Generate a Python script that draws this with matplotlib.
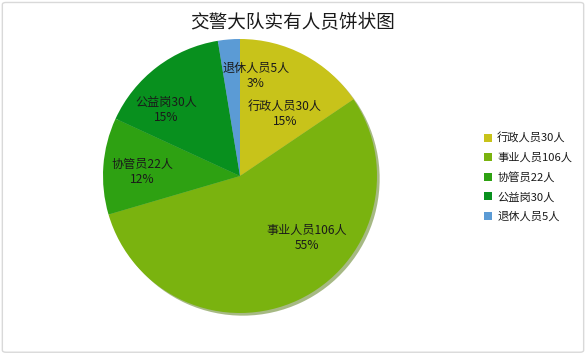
import matplotlib
matplotlib.use("Agg")
import matplotlib.pyplot as plt
from matplotlib.patches import FancyBboxPatch

plt.rcParams['font.family'] = ['Noto Sans CJK SC', 'DejaVu Sans']

# data
categories = ['行政人员30人', '事业人员106人', '协管员22人', '公益岗30人', '退休人员5人']
values = [30, 106, 22, 30, 5]
pct_labels = ['15%', '55%', '12%', '15%', '3%']
colors = ['#C8C31A', '#7AB30F', '#2EA112', '#08901E', '#5B9BD5']
# label centres in figure pixels (Excel "best fit" placement)
label_pos = [(285, 114), (307, 238), (142, 172), (166, 110), (256, 76)]

W, H = 586, 354
fig = plt.figure(figsize=(W / 100, H / 100), dpi=100)

# outer chart border
fig.patches.append(FancyBboxPatch((0.004, 0.005), 0.992, 0.988,
                                  boxstyle="round,pad=0,rounding_size=0.006",
                                  transform=fig.transFigure, fill=False,
                                  ec='#D9D9D9', lw=1))

cx, cy, r = 240, 176, 137
ax = fig.add_axes([(cx - r) / W, (H - cy - r) / H, 2 * r / W, 2 * r / H])
wedges, _ = ax.pie(values, colors=colors, startangle=90, counterclock=False,
                   shadow={'ox': 0.014, 'oy': -0.014, 'shade': 0.35},
                   wedgeprops=dict(linewidth=0))
ax.set_aspect('auto')
ax.set_xlim(-1, 1)
ax.set_ylim(-1, 1)
for p in ax.patches:
    p.set_clip_on(False)

for cat, pct, (px, py) in zip(categories, pct_labels, label_pos):
    fig.text(px / W, 1 - py / H, cat + '\n' + pct, ha='center', va='center',
             fontsize=8.7, color='#1A1A1A', linespacing=1.15)

fig.text(293 / W, 1 - 22 / H, '交警大队实有人员饼状图', ha='center', va='center',
         fontsize=13.4, color='#1A1A1A')

leg = fig.legend(wedges, categories, loc='upper left',
                 bbox_to_anchor=(478 / W, 1 - 127 / H), frameon=False,
                 fontsize=8.1, handlelength=0.7, handleheight=0.7,
                 handletextpad=0.5, labelspacing=0.8, borderpad=0)
for t in leg.get_texts():
    t.set_color('#1A1A1A')

fig.savefig('out.png', dpi=100)
